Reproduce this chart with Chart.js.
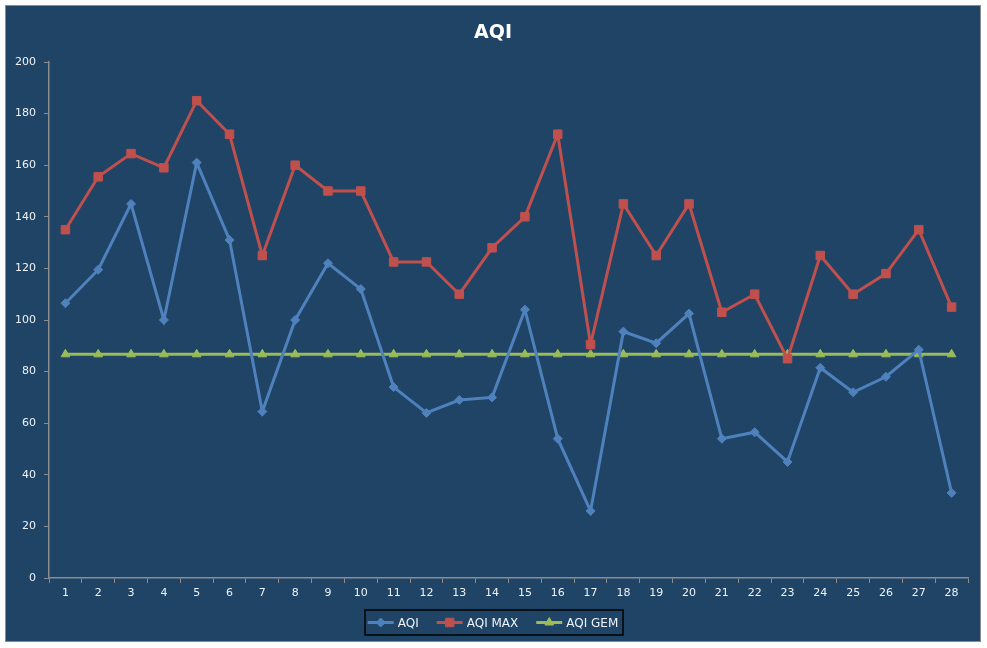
<!DOCTYPE html>
<html>
<head>
<meta charset="utf-8">
<title>AQI</title>
<script src="https://cdn.jsdelivr.net/npm/chart.js@4.4.1/dist/chart.umd.min.js"></script>
<style>
  body { margin: 0; background: #ffffff; }
  #wrap {
    position: absolute; left: 5px; top: 5px;
    width: 974px; height: 635px;
    border: 1px solid #8c8c8c;
    background: #1f4466;
  }
</style>
</head>
<body>
<div id="wrap"><canvas id="aqiChart" width="974" height="635"></canvas></div>
<script>
// data
var days = ['1','2','3','4','5','6','7','8','9','10','11','12','13','14','15','16','17','18','19','20','21','22','23','24','25','26','27','28'];
var aqi    = [106.5,119.5,145,100,161,131,64.5,100,122,112,74,64,69,70,104,54,26,95.5,91,102.5,54,56.5,45,81.5,72,78,88.5,33];
var aqiMax = [135,155.5,164.5,159,185,172,125,160,150,150,122.5,122.5,110,128,140,172,90.5,145,125,145,103,110,85,125,110,118,135,105];
var aqiGem = [86.7,86.7,86.7,86.7,86.7,86.7,86.7,86.7,86.7,86.7,86.7,86.7,86.7,86.7,86.7,86.7,86.7,86.7,86.7,86.7,86.7,86.7,86.7,86.7,86.7,86.7,86.7,86.7];
var seriesNames = ['AQI', 'AQI MAX', 'AQI GEM'];
var chartTitle = 'AQI';

var blue = '#4f81bd', red = '#c0504d', green = '#9bbb59';
var txt = '#eef2f6';
var axisCol = '#8c8c8c';
var fontFam = '"DejaVu Sans", Verdana, sans-serif';

// title + legend drawn by hand: title centred on the whole chart, legend gets the black frame
let boxLegend = {
  id: 'boxLegend',
  afterDraw(chart) {
    let ctx = chart.ctx;
    ctx.save();
    ctx.font = 'bold 19px ' + fontFam;
    ctx.fillStyle = '#ffffff';
    ctx.textAlign = 'center';
    ctx.textBaseline = 'middle';
    ctx.fillText(chartTitle, chart.width / 2, 27);

    ctx.font = '12px ' + fontFam;
    let items = chart.data.datasets.map(function(ds) {
      return { ds: ds, w: ctx.measureText(ds.label).width };
    });
    let sample = 26, gap = 4, between = 18;
    let total = 0;
    items.forEach(function(it, i) {
      total += sample + gap + it.w + (i < items.length - 1 ? between : 0);
    });
    let cx = chart.width / 2;
    let boxL = 359, boxR = 617, boxT = 604, boxB = 629;
    ctx.strokeStyle = '#000000';
    ctx.lineWidth = 1.5;
    ctx.strokeRect(boxL, boxT, boxR - boxL, boxB - boxT);
    let x = cx - total / 2;
    let y = (boxT + boxB) / 2;
    items.forEach(function(it) {
      let ds = it.ds;
      ctx.strokeStyle = ds.borderColor;
      ctx.lineWidth = 3;
      ctx.beginPath();
      ctx.moveTo(x, y);
      ctx.lineTo(x + sample, y);
      ctx.stroke();
      ctx.fillStyle = ds.backgroundColor;
      ctx.strokeStyle = ds.borderColor;
      ctx.lineWidth = 1;
      Chart.helpers.drawPoint(ctx, {
        pointStyle: ds.pointStyle, radius: ds.pointRadius, rotation: 0,
        borderWidth: 1
      }, x + sample / 2, y);
      ctx.fillStyle = txt;
      ctx.textBaseline = 'middle';
      ctx.textAlign = 'left';
      ctx.fillText(ds.label, x + sample + gap, y + 1);
      x += sample + gap + it.w + between;
    });
    ctx.restore();
  }
};

let ctx = document.getElementById('aqiChart');
let aqiChart = new Chart(ctx, {
  type: 'line',
  data: {
    labels: days,
    datasets: [{
      label: seriesNames[0],
      data: aqi,
      borderColor: blue,
      backgroundColor: blue,
      borderWidth: 3,
      pointStyle: 'rectRot',
      pointRadius: 4.5,
      pointBorderWidth: 1,
      tension: 0
    }, {
      label: seriesNames[1],
      data: aqiMax,
      borderColor: red,
      backgroundColor: red,
      borderWidth: 3,
      pointStyle: 'rect',
      pointRadius: 6,
      pointBorderWidth: 1,
      tension: 0
    }, {
      label: seriesNames[2],
      data: aqiGem,
      borderColor: green,
      backgroundColor: green,
      borderWidth: 3,
      pointStyle: 'triangle',
      pointRadius: 5,
      pointBorderWidth: 1,
      tension: 0
    }]
  },
  options: {
    responsive: false,
    animation: false,
    layout: { padding: { left: 0, right: 12, top: 56, bottom: 43 } },
    plugins: {
      legend: { display: false },
      tooltip: { enabled: false },
      title: { display: false }
    },
    scales: {
      x: {
        offset: true,
        grid: { display: true, offset: true, drawOnChartArea: false, drawTicks: true, tickLength: 5, color: axisCol },
        border: { display: true, color: axisCol, width: 1.5 },
        ticks: { color: txt, font: { family: fontFam, size: 11 }, padding: 4, maxRotation: 0, autoSkip: false },
        afterFit: function(scale) { scale.height = 20; }
      },
      y: {
        min: 0,
        max: 200,
        ticks: { stepSize: 20, color: txt, font: { family: fontFam, size: 11 }, padding: 8 },
        grid: { display: true, drawOnChartArea: false, drawTicks: true, tickLength: 5, color: axisCol },
        border: { display: true, color: axisCol, width: 1.5 },
        afterFit: function(scale) { scale.width = 43; }
      }
    }
  },
  plugins: [boxLegend]
});
</script>
</body>
</html>
